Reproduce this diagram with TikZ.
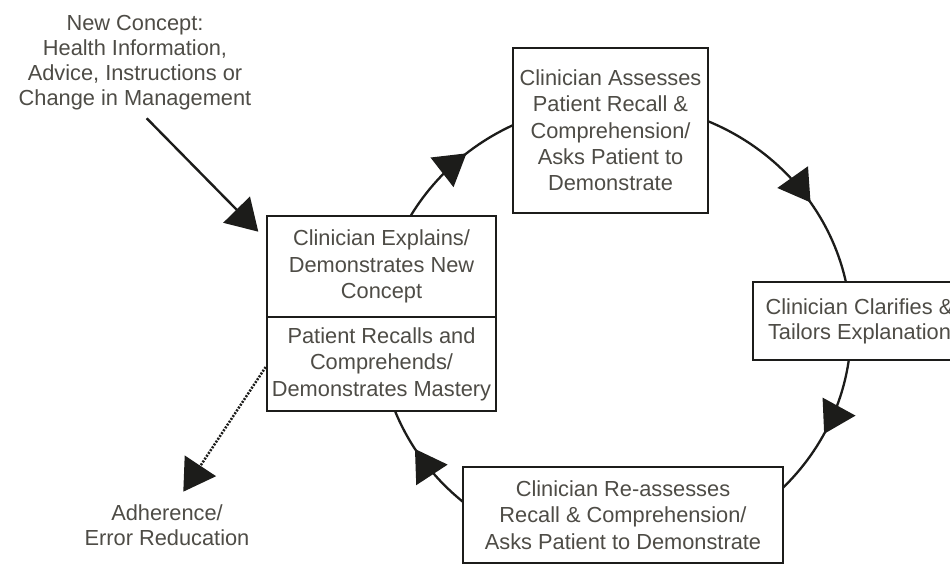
\documentclass[tikz,border=0pt]{standalone}
\usepackage{fontspec}
\setmainfont{Liberation Sans}
\usetikzlibrary{arrows.meta,decorations.markings}
\definecolor{txt}{RGB}{78,76,70}
\definecolor{ink}{RGB}{28,28,26}
\begin{document}
\begin{tikzpicture}[x=1pt,y=1pt,
  >={Triangle[length=31pt,width=37pt]},
  stepbox/.style={draw=ink, line width=2.6pt, fill=white, text=txt, align=center,
    inner sep=0pt, font=\fontsize{21.8pt}{26.5pt}\selectfont},
  note/.style={text=txt, align=center, inner sep=0pt,
    font=\fontsize{21.8pt}{25pt}\selectfont},
  loopline/.style={draw=ink, line width=2.3pt},
  feed/.style={draw=ink, line width=2.4pt, ->},
  outcome/.style={draw=ink, line width=2.5pt, dash pattern=on 2pt off 1.4pt, ->}]

% canvas
\path[use as bounding box, fill=white] (0,0) rectangle (950,565);
\clip (0,0) rectangle (950,565);

% the teach-back loop, clockwise, with four direction marks
\coordinate (loopc) at (615,236);
\draw[loopline, postaction={decorate}, decoration={markings,
    mark=at position 0.0753 with {\arrow{>}},
    mark=at position 0.4125 with {\arrow{>}},
    mark=at position 0.640 with {\arrow{>}},
    mark=at position 0.907 with {\arrow{>}}}]
  (loopc) ++(0:236) arc[start angle=0, end angle=-360, x radius=236, y radius=226];

% steps of the loop
\node[stepbox, minimum width=229pt, minimum height=101pt] (explain) at (381.5,298.5)
  {Clinician Explains/\\Demonstrates New\\Concept};
\node[stepbox, minimum width=229pt, minimum height=94pt] (recall) at (381.5,201)
  {Patient Recalls and\\Comprehends/\\Demonstrates Mastery};
\node[stepbox, font=\fontsize{21.8pt}{26.3pt}\selectfont,
  minimum width=195pt, minimum height=165pt] (assess) at (610.5,434.5)
  {Clinician Assesses\\Patient Recall \&\\Comprehension/\\Asks Patient to\\Demonstrate};
\node[stepbox, font=\fontsize{21.8pt}{25pt}\selectfont,
  minimum width=213pt, minimum height=78pt] (clarify) at (859.5,244)
  {Clinician Clarifies \&\\Tailors Explanation};
\node[stepbox, minimum width=320pt, minimum height=96pt] (reassess) at (623,50)
  {Clinician Re-assesses\\Recall \& Comprehension/\\Asks Patient to Demonstrate};

% entry and outcome labels
\node[note, anchor=north] (newc) at (135,550)
  {New Concept:\\Health Information,\\Advice, Instructions or\\Change in Management};
\node[note, anchor=north] (adher) at (167,60) {Adherence/\\Error Reducation};

% entry arrow and outcome arrow
\coordinate (inStart) at (146.7,446.7);
\coordinate (inEnd) at (258.3,333.3);
\draw[feed] (inStart) -- (inEnd);
\coordinate (outEnd) at (183.3,73.3);
\draw[outcome] ([yshift=-3pt]recall.west) -- (outEnd);
\end{tikzpicture}
\end{document}
